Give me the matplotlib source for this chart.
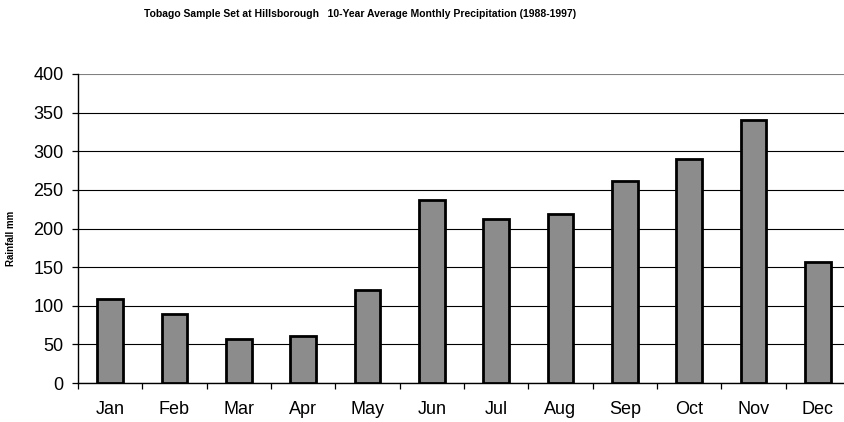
import matplotlib
matplotlib.use("Agg")
import matplotlib.pyplot as plt
import numpy as np

months = ["Jan", "Feb", "Mar", "Apr", "May", "Jun", "Jul", "Aug", "Sep", "Oct", "Nov", "Dec"]
rainfall = [109, 89, 57, 61, 120, 237, 212, 219, 261, 290, 341, 157]
yticks = [0, 50, 100, 150, 200, 250, 300, 350, 400]

plt.rcParams['font.family'] = ['Liberation Sans', 'DejaVu Sans']

fig = plt.figure(figsize=(8.45, 4.22), dpi=100)
ax = fig.add_axes([78/845, 39/422, 772/845, 309/422])

x = np.arange(len(months))
ax.bar(x, rainfall, width=0.4, color="#8c8c8c", edgecolor="black", linewidth=2.0, zorder=3)

ax.set_xlim(-0.5, len(months) - 0.5)
ax.set_ylim(0, 400)
ax.set_yticks(yticks)
ax.set_yticklabels([str(v) for v in yticks], fontsize=13)
ax.yaxis.grid(True, color="black", linewidth=0.8, zorder=0)
ax.set_axisbelow(True)
gl = ax.get_ygridlines()
gl[-1].set_color("#808080")

ax.set_xticks(x)
ax.set_xticklabels(months, fontsize=13)
ax.tick_params(axis='x', which='major', length=0, pad=13)
ax.set_xticks(np.arange(-0.5, len(months) + 0.5, 1), minor=True)
ax.tick_params(axis='x', which='minor', length=4.5, width=0.9, direction='out')
ax.tick_params(axis='y', length=4.5, width=0.9, direction='out', pad=6)

for s in ["top", "right"]:
    ax.spines[s].set_visible(False)
ax.spines["left"].set_linewidth(1.0)
ax.spines["bottom"].set_linewidth(1.0)

fig.text(11/845, 1 - 238/422, "Rainfall mm", rotation=90, ha="center", va="center",
         fontsize=7, fontweight="bold")

fig.text(360/845, 1 - 14/422, "Tobago Sample Set at Hillsborough   10-Year Average Monthly Precipitation (1988-1997)",
         ha="center", va="center", fontsize=7.5, fontweight="bold")

fig.savefig("out.png", dpi=100)
